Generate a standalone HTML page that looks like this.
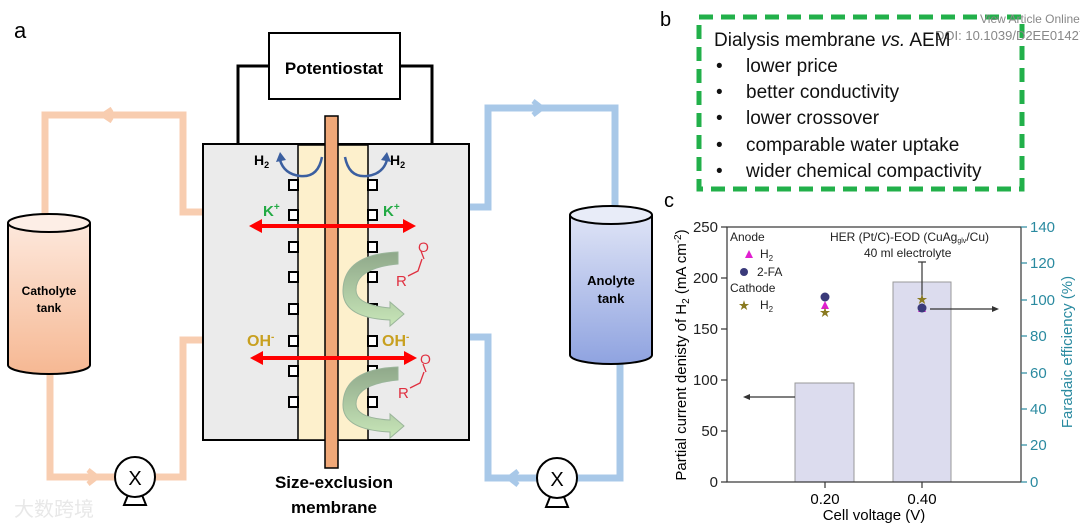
<!DOCTYPE html>
<html><head><meta charset="utf-8"><style>
body{margin:0;background:#fff;width:1080px;height:526px;overflow:hidden}
svg text{font-family:"Liberation Sans","Noto Sans CJK SC",sans-serif}
</style></head><body>
<svg width="1080" height="526" viewBox="0 0 1080 526" xmlns="http://www.w3.org/2000/svg">
<defs>
<linearGradient id="cg" x1="0" y1="0" x2="0" y2="1"><stop offset="0" stop-color="#fde8dc"/><stop offset="1" stop-color="#f6b893"/></linearGradient>
<linearGradient id="ag" x1="0" y1="0" x2="0" y2="1"><stop offset="0" stop-color="#dfe4f6"/><stop offset="1" stop-color="#8fa3e0"/></linearGradient>
<linearGradient id="gr" x1="0" y1="0" x2="0" y2="1"><stop offset="0" stop-color="#8fa88a"/><stop offset="1" stop-color="#c8e6b8"/></linearGradient>
</defs>
<text x="14" y="38" font-size="22">a</text>
<g fill="none" stroke="#f8cdb0" stroke-width="7">
<polyline points="203,212 183,212 183,115 45,115 45,215"/>
<polyline points="50,365 50,477 115,477"/>
<polyline points="155,477 183,477 183,340 203,340"/>
</g>
<polyline points="112,109 103,115 112,121" fill="none" stroke="#f8cdb0" stroke-width="5"/>
<polyline points="88,470 97,477 88,484" fill="none" stroke="#f8cdb0" stroke-width="5"/>
<g fill="none" stroke="#a8c8e8" stroke-width="7">
<polyline points="470,207 488,207 488,108 615,108 615,210"/>
<polyline points="470,337 488,337 488,478 537,478"/>
<polyline points="577,478 620,478 620,355"/>
</g>
<polyline points="533,101 542,108 533,115" fill="none" stroke="#a8c8e8" stroke-width="5"/>
<polyline points="518,471 509,478 518,485" fill="none" stroke="#a8c8e8" stroke-width="5"/>
<path d="M8,223 V365 A41,9 0 0 0 90,365 V223" fill="url(#cg)" stroke="#000" stroke-width="2"/>
<ellipse cx="49" cy="223" rx="41" ry="9" fill="#fdeee6" stroke="#000" stroke-width="2"/>
<text x="49" y="295" font-size="12" font-weight="bold" text-anchor="middle">Catholyte</text>
<text x="49" y="312" font-size="12" font-weight="bold" text-anchor="middle">tank</text>
<path d="M570,215 V355 A41,9 0 0 0 652,355 V215" fill="url(#ag)" stroke="#000" stroke-width="2"/>
<ellipse cx="611" cy="215" rx="41" ry="9" fill="#e8ecf8" stroke="#000" stroke-width="2"/>
<text x="611" y="285" font-size="13" font-weight="bold" text-anchor="middle">Anolyte</text>
<text x="611" y="303" font-size="13" font-weight="bold" text-anchor="middle">tank</text>
<g stroke="#000" stroke-width="2" fill="#fff">
<polygon points="124,505 146,505 140,490 130,490"/><circle cx="135" cy="477" r="20"/>
<polygon points="546,507 568,507 562,492 552,492"/><circle cx="557" cy="478" r="20"/>
</g>
<text x="135" y="485" font-size="20" text-anchor="middle">X</text>
<text x="557" y="486" font-size="20" text-anchor="middle">X</text>
<polyline points="269,66 238,66 238,144" fill="none" stroke="#000" stroke-width="3"/>
<polyline points="400,66 432,66 432,144" fill="none" stroke="#000" stroke-width="3"/>
<rect x="269" y="33" width="131" height="66" fill="#fff" stroke="#000" stroke-width="2"/>
<text x="334" y="74" font-size="17" font-weight="bold" text-anchor="middle">Potentiostat</text>
<rect x="203" y="144" width="266" height="296" fill="#ebebeb" stroke="#000" stroke-width="2"/>
<rect x="298" y="145" width="70" height="295" fill="#fdf0cc" stroke="#000" stroke-width="1.5"/>
<rect x="325" y="116" width="13" height="352" fill="#f0a878" stroke="#000" stroke-width="1.5"/>
<g fill="#fff" stroke="#000" stroke-width="2">
<rect x="289" y="180" width="9" height="10"/><rect x="289" y="210" width="9" height="10"/><rect x="289" y="242" width="9" height="10"/><rect x="289" y="272" width="9" height="10"/><rect x="289" y="304" width="9" height="10"/><rect x="289" y="336" width="9" height="10"/><rect x="289" y="366" width="9" height="10"/><rect x="289" y="397" width="9" height="10"/>
<rect x="368" y="180" width="9" height="10"/><rect x="368" y="210" width="9" height="10"/><rect x="368" y="242" width="9" height="10"/><rect x="368" y="272" width="9" height="10"/><rect x="368" y="304" width="9" height="10"/><rect x="368" y="336" width="9" height="10"/><rect x="368" y="366" width="9" height="10"/><rect x="368" y="397" width="9" height="10"/>
</g>
<path d="M322,157 Q318,178 300,176 Q284,174 280,160" fill="none" stroke="#3b5fa0" stroke-width="2.5"/>
<polygon points="276,162 280,152 286,160" fill="#3b5fa0"/>
<path d="M345,157 Q349,178 367,176 Q383,174 387,160" fill="none" stroke="#3b5fa0" stroke-width="2.5"/>
<polygon points="391,162 387,152 381,160" fill="#3b5fa0"/>
<text x="254" y="165" font-size="14" font-weight="bold">H<tspan font-size="9" dy="3">2</tspan></text>
<text x="390" y="165" font-size="14" font-weight="bold">H<tspan font-size="9" dy="3">2</tspan></text>
<g fill="#f00" stroke="#f00">
<line x1="258" y1="226" x2="406" y2="226" stroke-width="4"/>
<polygon points="249,226 262,219 262,233" stroke="none"/><polygon points="416,226 403,219 403,233" stroke="none"/>
<line x1="258" y1="358" x2="406" y2="358" stroke-width="4"/>
<polygon points="250,358 263,351 263,365" stroke="none"/><polygon points="417,358 404,351 404,365" stroke="none"/>
</g>
<text x="263" y="216" font-size="15" font-weight="bold" fill="#22aa44">K<tspan font-size="10" dy="-6">+</tspan></text>
<text x="383" y="216" font-size="15" font-weight="bold" fill="#22aa44">K<tspan font-size="10" dy="-6">+</tspan></text>
<text x="247" y="346" font-size="16" font-weight="bold" fill="#c8a020">OH<tspan font-size="10" dy="-6">-</tspan></text>
<text x="382" y="346" font-size="16" font-weight="bold" fill="#c8a020">OH<tspan font-size="10" dy="-6">-</tspan></text>
<path d="M398,252 L398,264 Q356,268 356,290 Q356,305 390,308 L390,302 L404,314 L390,326 L390,320 Q342,318 343,290 Q344,254 398,252 Z" fill="url(#gr)" stroke="#9ab59a"/>
<path d="M398,367 L398,380 Q356,384 356,404 Q356,418 390,420 L390,414 L404,426 L390,438 L390,432 Q342,430 343,404 Q344,369 398,367 Z" fill="url(#gr)" stroke="#9ab59a"/>
<g fill="none" stroke="#e03040" stroke-width="1.3">
<polyline points="408,276 418,271 422,259"/><line x1="424" y1="259" x2="421" y2="251"/>
<polyline points="410,388 420,383 424,372"/><line x1="426" y1="372" x2="423" y2="364"/>
</g>
<text x="396" y="286" font-size="15" fill="#e03040">R</text><text x="418" y="252" font-size="14" fill="#e03040">O</text>
<text x="398" y="398" font-size="15" fill="#e03040">R</text><text x="420" y="364" font-size="14" fill="#e03040">O</text>
<text x="334" y="488" font-size="17" font-weight="bold" text-anchor="middle">Size-exclusion</text>
<text x="334" y="513" font-size="17" font-weight="bold" text-anchor="middle">membrane</text>
<text x="14" y="516" font-size="20" fill="#e8e8e8">大数跨境</text>
<text x="660" y="26" font-size="20">b</text>
<rect x="699" y="17" width="323" height="172" fill="none" stroke="#22b04a" stroke-width="5" stroke-dasharray="14,8"/>
<text x="980" y="23" font-size="12" fill="#888">View Article Online</text>
<text x="935" y="40" font-size="13" fill="#888">DOI: 10.1039/D2EE01427</text>
<g font-size="19" fill="#111">
<text x="714" y="46">Dialysis membrane <tspan font-style="italic">vs.</tspan> AEM</text>
<text x="716" y="72">•</text><text x="746" y="72">lower price</text>
<text x="716" y="98">•</text><text x="746" y="98">better conductivity</text>
<text x="716" y="124">•</text><text x="746" y="124">lower crossover</text>
<text x="716" y="151">•</text><text x="746" y="151">comparable water uptake</text>
<text x="716" y="177">•</text><text x="746" y="177">wider chemical compactivity</text>
</g>
<text x="664" y="207" font-size="20">c</text>
<rect x="795" y="383" width="59" height="99" fill="#dcdcee" stroke="#999"/>
<rect x="893" y="282" width="58" height="200" fill="#dcdcee" stroke="#999"/>
<rect x="727" y="227" width="294" height="255" fill="none" stroke="#333" stroke-width="1.2"/>
<g stroke="#333" stroke-width="1.2">
<line x1="727" y1="482" x2="721" y2="482"/><line x1="727" y1="431" x2="721" y2="431"/><line x1="727" y1="380" x2="721" y2="380"/><line x1="727" y1="329" x2="721" y2="329"/><line x1="727" y1="278" x2="721" y2="278"/><line x1="727" y1="227" x2="721" y2="227"/>
<line x1="825" y1="482" x2="825" y2="488"/><line x1="922" y1="482" x2="922" y2="488"/>
<line x1="922" y1="262" x2="922" y2="300"/><line x1="918" y1="262" x2="926" y2="262"/>
<line x1="795" y1="397" x2="746" y2="397"/><line x1="930" y1="309" x2="995" y2="309"/>
</g>
<polygon points="743,397 750,394 750,400" fill="#333"/><polygon points="999,309 992,306 992,312" fill="#333"/>
<g stroke="#2a8aa0" stroke-width="1.2">
<line x1="1021" y1="482" x2="1027" y2="482"/><line x1="1021" y1="445" x2="1027" y2="445"/><line x1="1021" y1="409" x2="1027" y2="409"/><line x1="1021" y1="373" x2="1027" y2="373"/><line x1="1021" y1="336" x2="1027" y2="336"/><line x1="1021" y1="300" x2="1027" y2="300"/><line x1="1021" y1="263" x2="1027" y2="263"/><line x1="1021" y1="227" x2="1027" y2="227"/>
</g>
<g font-size="15" fill="#222" text-anchor="end">
<text x="718" y="487">0</text><text x="718" y="436">50</text><text x="718" y="385">100</text><text x="718" y="334">150</text><text x="718" y="283">200</text><text x="718" y="232">250</text>
</g>
<g font-size="15" fill="#2a8aa0">
<text x="1030" y="487">0</text><text x="1030" y="450">20</text><text x="1030" y="414">40</text><text x="1030" y="378">60</text><text x="1030" y="341">80</text><text x="1030" y="305">100</text><text x="1030" y="268">120</text><text x="1030" y="232">140</text>
</g>
<text x="825" y="504" font-size="15" text-anchor="middle">0.20</text>
<text x="922" y="504" font-size="15" text-anchor="middle">0.40</text>
<text x="874" y="520" font-size="15" text-anchor="middle">Cell voltage (V)</text>
<text transform="translate(686,355) rotate(-90)" font-size="15" text-anchor="middle">Partial current denisty of H<tspan font-size="10" dy="3">2</tspan><tspan dy="-3"> (mA cm</tspan><tspan font-size="10" dy="-5">-2</tspan><tspan dy="5">)</tspan></text>
<text transform="translate(1072,352) rotate(-90)" font-size="15" fill="#2a8aa0" text-anchor="middle">Faradaic efficiency (%)</text>
<g font-size="12" fill="#222">
<text x="730" y="241">Anode</text>
<text x="760" y="258">H<tspan font-size="8" dy="3">2</tspan></text>
<text x="757" y="276">2-FA</text>
<text x="730" y="292">Cathode</text>
<text x="760" y="309">H<tspan font-size="8" dy="3">2</tspan></text>
<text x="830" y="241">HER (Pt/C)-EOD (CuAg<tspan font-size="7" dy="2">glv</tspan><tspan dy="-2">/Cu)</tspan></text>
<text x="864" y="257">40 ml electrolyte</text>
</g>
<polygon points="745,258 749,250 753,258" fill="#e020d0"/>
<circle cx="744" cy="272" r="4" fill="#3a3a7a"/>
<text x="744" y="309" font-size="11" fill="#8a7a20" text-anchor="middle">★</text>
<polygon points="821,309 825,301 829,309" fill="#e020d0"/>
<circle cx="825" cy="297" r="4.5" fill="#3a3a7a"/>
<text x="825" y="316" font-size="11" fill="#8a7a20" text-anchor="middle">★</text>
<polygon points="918,312 922,304 926,312" fill="#e020d0"/>
<circle cx="922" cy="308" r="4.5" fill="#3a3a7a"/>
<text x="922" y="303" font-size="11" fill="#8a7a20" text-anchor="middle">★</text>
</svg>
</body></html>
